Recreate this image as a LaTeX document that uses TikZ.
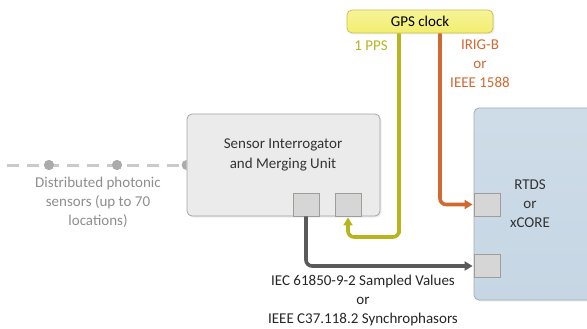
\documentclass[tikz,border=0pt]{standalone}
\usepackage{fontspec}
\setmainfont{Carlito}
\usetikzlibrary{arrows.meta,shadows,calc}
\definecolor{gpsfill}{HTML}{F2EE6E}
\definecolor{gpsdraw}{HTML}{C9C24A}
\definecolor{ppscol}{HTML}{B7B41E}
\definecolor{irigcol}{HTML}{CF6A30}
\definecolor{svcol}{HTML}{5A5A5A}
\definecolor{siufill}{HTML}{EBEBEB}
\definecolor{siudraw}{HTML}{A8A4A0}
\definecolor{rtdsfill}{HTML}{C6D6E4}
\definecolor{rtdsdraw}{HTML}{A4ACB4}
\definecolor{portfill}{HTML}{D6D6D6}
\definecolor{portdraw}{HTML}{A09C98}
\definecolor{sensline}{HTML}{CACACA}
\definecolor{sensdot}{HTML}{ABABAB}
\definecolor{senstext}{HTML}{8E8E8E}
\tikzset{
  box/.style={rounded corners=5pt, line width=0.8pt, inner sep=0pt,
    drop shadow={shadow xshift=1.5pt, shadow yshift=-1.5pt, opacity=0.15}},
  portbox/.style={draw=portdraw, fill=portfill, line width=0.8pt, minimum width=26pt, minimum height=23pt, inner sep=0pt},
  wire/.style={line width=3.6pt, rounded corners=6pt},
  tip/.style={-{Triangle[length=8pt,width=9pt]}},
  lbl/.style={font=\fontsize{15}{19}\selectfont, align=center, inner sep=0pt},
  dotnode/.style={circle, fill=sensdot, minimum size=10pt, inner sep=0pt}
}
\begin{document}
\begin{tikzpicture}[x=1pt,y=-1pt]
\useasboundingbox (0,0) rectangle (587,329);
% GPS clock
\node[box, draw=gpsdraw, top color=gpsfill!70!white, bottom color=gpsfill, minimum width=146pt, minimum height=23pt, font=\fontsize{15}{17}\selectfont] (gps) at (420,21.5) {GPS clock};
% Sensor Interrogator and Merging Unit
\node[box, draw=siudraw, fill=siufill, minimum width=193pt, minimum height=102pt] (siu) at (283.5,165) {};
\node[lbl, text=black!80, font=\fontsize{15}{20}\selectfont] (siutext) at (283,155) {Sensor Interrogator\\and Merging Unit};
% RTDS
\node[box, draw=rtdsdraw, top color=rtdsfill!85!white, bottom color=rtdsfill, minimum width=120pt, minimum height=192pt] (rtds) at (534,204) {};
\node[lbl, text=black!80] (rtdstext) at (530,204) {RTDS\\or\\xCORE};
% ports
\node[portbox] (p1) at (306,204.5) {};
\node[portbox] (p2) at (348,204.5) {};
\node[portbox, anchor=west] (r1) at (rtds.west |- 0,204.5) {};
\node[portbox, anchor=west] (r2) at (rtds.west |- 0,266) {};
% sensors
\coordinate (s0) at (7,165);
\node[dotnode] (d1) at (49,165) {};
\node[dotnode] (d2) at (117,165) {};
\draw[sensline, line width=3pt, dash pattern=on 12pt off 8pt] (s0) -- (siu.west);
\node[dotnode] at (d1) {};
\node[dotnode] at (d2) {};
\begin{scope}
\clip (0,150) rectangle (siu.west |- 0,180);
\node[dotnode] (d3) at (siu.west) {};
\end{scope}
\node[lbl, text=senstext] (senslbl) at (98,202) {Distributed photonic\\sensors (up to 70\\locations)};
% wires
\coordinate (c1) at (399,237);
\draw[wire, ppscol, tip] ([xshift=-21pt]gps.south) |- (c1) -| ([yshift=-1pt]p2.south);
\draw[wire, irigcol, tip] ([xshift=20pt]gps.south) |- ([xshift=-1pt]r1.west);
\draw[wire, svcol, tip] (p1.south) |- ([xshift=-1pt]r2.west);
% labels
\node[lbl, text=ppscol] (ppslbl) at (371,46) {1 PPS};
\node[lbl, text=irigcol] (iriglbl) at (480,64) {IRIG-B\\or\\IEEE 1588};
\node[lbl, text=black!85] (svlbl) at (363,300) {IEC 61850-9-2 Sampled Values\\or\\IEEE C37.118.2 Synchrophasors};
\end{tikzpicture}
\end{document}
